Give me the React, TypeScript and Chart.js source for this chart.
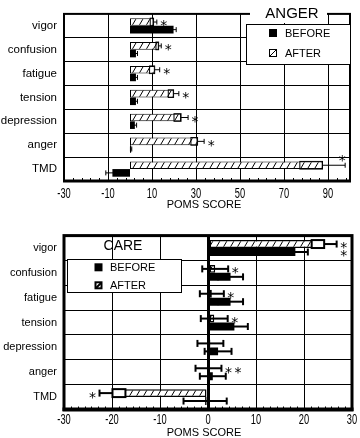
import React, { useEffect, useRef } from "react";
import { Chart, registerables } from "chart.js";
Chart.register(...registerables);

// ---------- DATA ----------
const categories = ["vigor", "confusion", "fatigue", "tension", "depression", "anger", "TMD"];

// ANGER panel
const angerBefore = [19.8, 2.7, 2.7, 2.7, 2.2, 0.5, -8.0];
const angerBeforeErr = [1.2, 0.7, 0.7, 0.7, 0.8, 0.3, 3.0];
const angerAfter = [10.7, 13.0, 11.2, 19.8, 23.2, 30.7, 87.5];
const angerAfterErr = [1.5, 1.2, 2.3, 2.4, 3.2, 3.0, 10.3];
const angerBeforeSig = ["", "", "", "", "", "", ""];
const angerAfterSig = ["*", "*", "*", "*", "*", "*", "*"];
const angerTicks = [-30, -10, 10, 30, 50, 70, 90];

// CARE panel
const careBefore = [18.2, 4.7, 4.7, 5.5, 2.1, 1.0, -0.6];
const careBeforeErr = [2.6, 2.6, 2.6, 2.8, 2.8, 2.7, 4.5];
const careAfter = [24.2, 1.5, 0.8, 1.3, 0.5, 0.1, -19.9];
const careAfterErr = [2.6, 2.7, 2.5, 2.8, 2.7, 2.7, 2.7];
const careBeforeSig = ["*", "", "", "", "", "", ""];
const careAfterSig = ["*", "*", "*", "*", "", "**", "*"];
const careTicks = [-30, -20, -10, 0, 10, 20, 30];

const legendBefore = "BEFORE";
const legendAfter = "AFTER";
const axisTitle = "POMS SCORE";

const FONT = "'Liberation Sans', Arial, Helvetica, sans-serif";

function makeHatch(): any {
  const w = 7, h = 12;
  const c = document.createElement("canvas");
  c.width = w; c.height = h;
  const g = c.getContext("2d")!;
  g.fillStyle = "#fff"; g.fillRect(0, 0, w, h);
  g.strokeStyle = "#000"; g.lineWidth = 1;
  for (let k = -1; k <= 1; k++) {
    g.beginPath();
    g.moveTo(k * w - w, 2 * h);
    g.lineTo(k * w + 2 * w, -h);
    g.stroke();
  }
  return g.createPattern(c, "repeat");
}

type Cfg = {
  name: string;
  before: number[]; beforeErr: number[]; after: number[]; afterErr: number[];
  beforeSig: string[]; afterSig: string[];
  ticks: number[]; min: number; max: number; minorStep: number;
  top: number; canvasH: number; padTop: number; padRight: number; axisH: number;
  catFont: number; lineW: number; capH: number; frameW: number; frameBottomW: number; zeroW: number;
  tickCenter: number; titleCenter: number; titleX: number; boxWhite: boolean; barBorder: number;
  drawLegend: (ctx: CanvasRenderingContext2D) => void;
};

function star(ctx: CanvasRenderingContext2D, cx: number, cy: number) {
  ctx.font = "14px 'DejaVu Sans', sans-serif";
  ctx.textAlign = "center";
  ctx.textBaseline = "alphabetic";
  ctx.fillText("*", cx, cy + 8.4);
}

function makePlugin(cfg: Cfg) {
  return {
    id: "panelDeco",
    afterDatasetsDraw(chart: any) {
      const ctx: CanvasRenderingContext2D = chart.ctx;
      const a = chart.chartArea;
      const xs = chart.scales.x;
      const p0 = xs.getPixelForValue(0);
      ctx.save();
      ctx.strokeStyle = "#000";
      ctx.fillStyle = "#000";
      const sets = [
        { m: cfg.after, e: cfg.afterErr, after: true },
        { m: cfg.before, e: cfg.beforeErr, after: false },
      ];
      const outer: number[][] = [[], []];
      const geo: { y: number; h: number }[][] = [[], []];
      sets.forEach((s, di) => {
        const meta = chart.getDatasetMeta(di);
        meta.data.forEach((el: any, i: number) => {
          const m = s.m[i], e = s.e[i];
          const dir = m >= 0 ? 1 : -1;
          const pm = xs.getPixelForValue(m);
          const pOut = xs.getPixelForValue(m + dir * e);
          const pIn = xs.getPixelForValue(m - dir * e);
          const y = el.y, h = el.height;
          outer[di][i] = pOut;
          geo[di][i] = { y, h };
          ctx.lineWidth = cfg.lineW;
          const cap = (x: number) => {
            ctx.beginPath();
            ctx.moveTo(x, y - cfg.capH / 2);
            ctx.lineTo(x, y + cfg.capH / 2);
            ctx.stroke();
          };
          const line = (x1: number, x2: number) => {
            ctx.beginPath();
            ctx.moveTo(x1, y);
            ctx.lineTo(x2, y);
            ctx.stroke();
          };
          if (s.after && (pIn - p0) * dir > 0) {
            const x1 = Math.min(pIn, pm), w = Math.abs(pm - pIn);
            if (cfg.boxWhite) {
              ctx.fillStyle = "#fff";
              ctx.fillRect(x1, y - h / 2, w, h);
              ctx.fillStyle = "#000";
            }
            ctx.strokeRect(x1, y - h / 2, w, h);
            line(pm, pOut);
            cap(pOut);
          } else {
            line(pIn, pOut);
            cap(pIn);
            cap(pOut);
          }
        });
      });
      // significance stars
      const sigs = [cfg.afterSig, cfg.beforeSig];
      for (let i = 0; i < categories.length; i++) {
        const both = sigs[0][i] && sigs[1][i];
        for (let di = 0; di < 2; di++) {
          const s = sigs[di][i];
          if (!s) continue;
          const m = sets[di].m[i];
          const dir = m >= 0 ? 1 : -1;
          let anchor = outer[di][i];
          if (both) anchor = dir > 0 ? Math.max(outer[0][i], outer[1][i]) : Math.min(outer[0][i], outer[1][i]);
          const { y, h } = geo[di][i];
          for (let k = 0; k < s.length; k++) {
            let cx = anchor + dir * (7 + k * 9.5);
            let cy = y;
            if (cx + 4 > a.right) {
              cx = outer[di][i] - 3;
              cy = y - h / 2 - 5;
            }
            star(ctx, cx, cy);
          }
        }
      }
      ctx.restore();
    },
    afterDraw(chart: any) {
      const ctx: CanvasRenderingContext2D = chart.ctx;
      const a = chart.chartArea;
      const xs = chart.scales.x;
      ctx.save();
      ctx.strokeStyle = "#000";
      ctx.fillStyle = "#000";
      // minor ticks
      ctx.lineWidth = 1;
      for (let v = cfg.min; v < cfg.max - 1e-6; v += cfg.minorStep) {
        const x = Math.round(xs.getPixelForValue(v)) + 0.5;
        ctx.beginPath();
        ctx.moveTo(x, a.bottom);
        ctx.lineTo(x, a.bottom - 3);
        ctx.stroke();
      }
      // frame
      ctx.lineWidth = cfg.frameW;
      ctx.strokeRect(a.left, a.top, a.right - a.left, a.bottom - a.top);
      ctx.lineWidth = cfg.frameBottomW;
      ctx.beginPath();
      ctx.moveTo(a.left - cfg.frameW / 2, a.bottom);
      ctx.lineTo(a.right + cfg.frameW / 2, a.bottom);
      ctx.stroke();
      // tick labels (narrow)
      ctx.font = "15px " + FONT;
      ctx.textAlign = "center";
      ctx.textBaseline = "alphabetic";
      cfg.ticks.forEach((v) => {
        const x = xs.getPixelForValue(v);
        ctx.save();
        ctx.translate(x, cfg.tickCenter + 5.4);
        ctx.scale(0.62, 1);
        ctx.fillText(String(v), 0, 0);
        ctx.restore();
      });
      // axis title
      ctx.font = "11px " + FONT;
      ctx.fillText(axisTitle, cfg.titleX, cfg.titleCenter + 3.9);
      // legend
      cfg.drawLegend(ctx);
      ctx.restore();
    },
  };
}

function drawAngerLegend(ctx: CanvasRenderingContext2D) {
  ctx.fillStyle = "#fff";
  ctx.fillRect(250, 3, 77, 20);
  ctx.fillStyle = "#000";
  ctx.font = "15px " + FONT;
  ctx.textAlign = "center";
  ctx.fillText("ANGER", 292, 17.7);
  ctx.fillStyle = "#fff";
  ctx.fillRect(246, 24, 104, 40);
  ctx.strokeStyle = "#000";
  ctx.lineWidth = 1;
  ctx.strokeRect(246.5, 24.5, 104, 40);
  ctx.fillStyle = "#000";
  ctx.fillRect(269, 29, 8, 8);
  ctx.strokeRect(269.5, 49.5, 7, 7);
  ctx.beginPath();
  ctx.moveTo(270, 56);
  ctx.lineTo(276, 50);
  ctx.stroke();
  ctx.font = "11px " + FONT;
  ctx.textAlign = "left";
  ctx.fillText(legendBefore, 285, 37);
  ctx.fillText(legendAfter, 285, 57);
}

function drawCareLegend(ctx: CanvasRenderingContext2D) {
  ctx.fillStyle = "#000";
  ctx.font = "14px " + FONT;
  ctx.textAlign = "center";
  ctx.fillText("CARE", 123, 27.7);
  ctx.fillStyle = "#fff";
  ctx.fillRect(67, 37, 114, 33);
  ctx.strokeStyle = "#000";
  ctx.lineWidth = 1;
  ctx.strokeRect(67.5, 37.5, 114, 33);
  ctx.fillStyle = "#000";
  ctx.fillRect(94.5, 41.3, 8, 8);
  ctx.lineWidth = 2;
  ctx.strokeRect(95.5, 60.3, 6, 6);
  ctx.beginPath();
  ctx.moveTo(96, 66);
  ctx.lineTo(101, 61);
  ctx.stroke();
  ctx.font = "11px " + FONT;
  ctx.textAlign = "left";
  ctx.fillText(legendBefore, 110, 49.2);
  ctx.fillText(legendAfter, 110, 67.2);
}

const angerCfg: Cfg = {
  name: "anger",
  before: angerBefore, beforeErr: angerBeforeErr, after: angerAfter, afterErr: angerAfterErr,
  beforeSig: angerBeforeSig, afterSig: angerAfterSig,
  ticks: angerTicks, min: -30, max: 100, minorStep: 4,
  top: 0, canvasH: 222, padTop: 1, padRight: 10, axisH: 41,
  catFont: 11.5, lineW: 1, capH: 5, frameW: 2, frameBottomW: 3, zeroW: 1,
  tickCenter: 192.5, titleCenter: 204.3, titleX: 204, boxWhite: false, barBorder: 1,
  drawLegend: drawAngerLegend,
};

const careCfg: Cfg = {
  name: "care",
  before: careBefore, beforeErr: careBeforeErr, after: careAfter, afterErr: careAfterErr,
  beforeSig: careBeforeSig, afterSig: careAfterSig,
  ticks: careTicks, min: -30, max: 30, minorStep: 10 / 7,
  top: 222, canvasH: 216, padTop: 12.5, padRight: 8, axisH: 28.5,
  catFont: 11, lineW: 2, capH: 7, frameW: 3, frameBottomW: 4, zeroW: 3,
  tickCenter: 196.3, titleCenter: 209.7, titleX: 204, boxWhite: true, barBorder: 1.5,
  drawLegend: drawCareLegend,
};

function Panel({ cfg }: { cfg: Cfg }) {
  const ref = useRef<HTMLCanvasElement>(null);
  useEffect(() => {
    const hatch = makeHatch();
    const chart = new Chart(ref.current!, {
      type: "bar",
      data: {
        labels: categories,
        datasets: [
          {
            label: legendAfter,
            data: cfg.after,
            backgroundColor: hatch,
            borderColor: "#000",
            borderWidth: cfg.barBorder,
            borderSkipped: false,
            barPercentage: 1,
            categoryPercentage: 0.64,
          },
          {
            label: legendBefore,
            data: cfg.before,
            backgroundColor: "#000",
            borderColor: "#000",
            borderWidth: 0,
            barPercentage: 1,
            categoryPercentage: 0.64,
          },
        ],
      },
      options: {
        indexAxis: "y",
        animation: false,
        responsive: false,
        devicePixelRatio: 1,
        layout: { padding: { top: cfg.padTop, right: cfg.padRight, left: 0, bottom: 0 } },
        plugins: { legend: { display: false }, tooltip: { enabled: false }, title: { display: false } },
        scales: {
          x: {
            type: "linear",
            min: cfg.min,
            max: cfg.max,
            afterBuildTicks: (s: any) => {
              s.ticks = cfg.ticks.map((v) => ({ value: v }));
            },
            afterFit: (s: any) => {
              s.height = cfg.axisH;
            },
            ticks: { display: false },
            border: { display: false },
            grid: {
              color: "#000",
              lineWidth: (c: any) => (c.tick && c.tick.value === 0 ? cfg.zeroW : 1),
              drawTicks: false,
            },
          },
          y: {
            type: "category",
            afterFit: (s: any) => {
              s.width = 64;
            },
            border: { display: false },
            grid: { color: "#000", lineWidth: 1, drawTicks: false, offset: true },
            ticks: {
              color: "#000",
              padding: 7,
              font: { family: FONT, size: cfg.catFont },
            },
          },
        },
      },
      plugins: [makePlugin(cfg)],
    } as any);
    return () => chart.destroy();
  }, []);
  return (
    <div style={{ position: "absolute", left: 0, top: cfg.top, width: 360, height: cfg.canvasH }}>
      <canvas ref={ref} width={360} height={cfg.canvasH} style={{ width: 360, height: cfg.canvasH, display: "block" }} />
    </div>
  );
}

export default function App() {
  return (
    <div style={{ position: "absolute", left: 0, top: 0, width: 360, height: 438, overflow: "hidden", background: "#fff" }}>
      <Panel cfg={angerCfg} />
      <Panel cfg={careCfg} />
    </div>
  );
}
